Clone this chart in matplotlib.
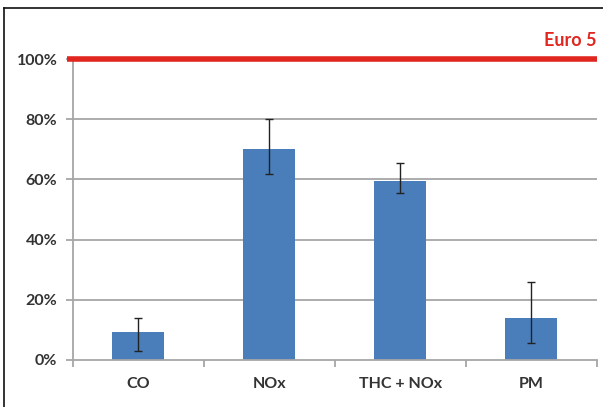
import matplotlib
matplotlib.use("Agg")
import matplotlib.pyplot as plt
from matplotlib.lines import Line2D
import numpy as np

categories = ["CO", "NOx", "THC + NOx", "PM"]
values = [9.4, 70.0, 59.5, 13.9]
err_low = [3.1, 61.7, 55.4, 5.7]
err_high = [13.9, 80.0, 65.3, 26.0]
yticks = [0, 20, 40, 60, 80, 100]
ytick_labels = ["0%", "20%", "40%", "60%", "80%", "100%"]
limit_value = 100
limit_label = "Euro 5"

plt.rcParams['font.family'] = ['Lato', 'DejaVu Sans']

fig = plt.figure(figsize=(6.03, 4.07), dpi=100)
ax = fig.add_axes([0.1206, 0.1155, 0.8689, 0.7395])

x = np.arange(len(categories))
vals = np.array(values)
yerr = np.array([vals - np.array(err_low), np.array(err_high) - vals])

for y in yticks[1:-1]:
    ax.axhline(y, color="#a6a6a6", lw=1.3, zorder=1)

ax.bar(x, vals, width=0.40, color="#4a7ebb", zorder=2)
ax.errorbar(x, vals, yerr=yerr, fmt="none", ecolor="#222222", elinewidth=1.0,
            capsize=3, capthick=1.0, zorder=3)

ax.set_xlim(-0.5, len(categories) - 0.5)
ax.set_ylim(0, 100)

ax.plot([-0.545, len(categories) - 0.5], [limit_value, limit_value], color="#e0261f",
        lw=4, clip_on=False, zorder=4, solid_capstyle="butt")
ax.text(len(categories) - 0.5, limit_value + 3.3, limit_label, color="#e0261f",
        fontsize=13, fontweight="bold", ha="right", va="bottom")

for s in ["top", "right"]:
    ax.spines[s].set_visible(False)
ax.spines["left"].set_color("#a6a6a6")
ax.spines["bottom"].set_color("#a6a6a6")
ax.spines["left"].set_linewidth(1.3)
ax.spines["bottom"].set_linewidth(1.3)

ax.set_yticks(yticks)
ax.set_yticklabels(ytick_labels, fontsize=11.5, fontweight="bold", color="#333333")
ax.tick_params(axis="y", length=5, width=1.3, color="#a6a6a6", pad=6)

ax.set_xticks(x)
ax.set_xticklabels(categories, fontsize=11.5, fontweight="bold", color="#333333")
ax.tick_params(axis="x", length=0, pad=12)
ax.set_xticks(np.arange(len(categories) + 1) - 0.5, minor=True)
ax.tick_params(axis="x", which="minor", length=5, width=1.3, color="#a6a6a6")

fig.add_artist(Line2D([0.0066, 1.0], [0.980, 0.980], color="#111111", lw=1.2))
fig.add_artist(Line2D([0.0066, 0.0066], [0.0, 0.980], color="#111111", lw=1.2))

fig.savefig("out.png", dpi=100)
